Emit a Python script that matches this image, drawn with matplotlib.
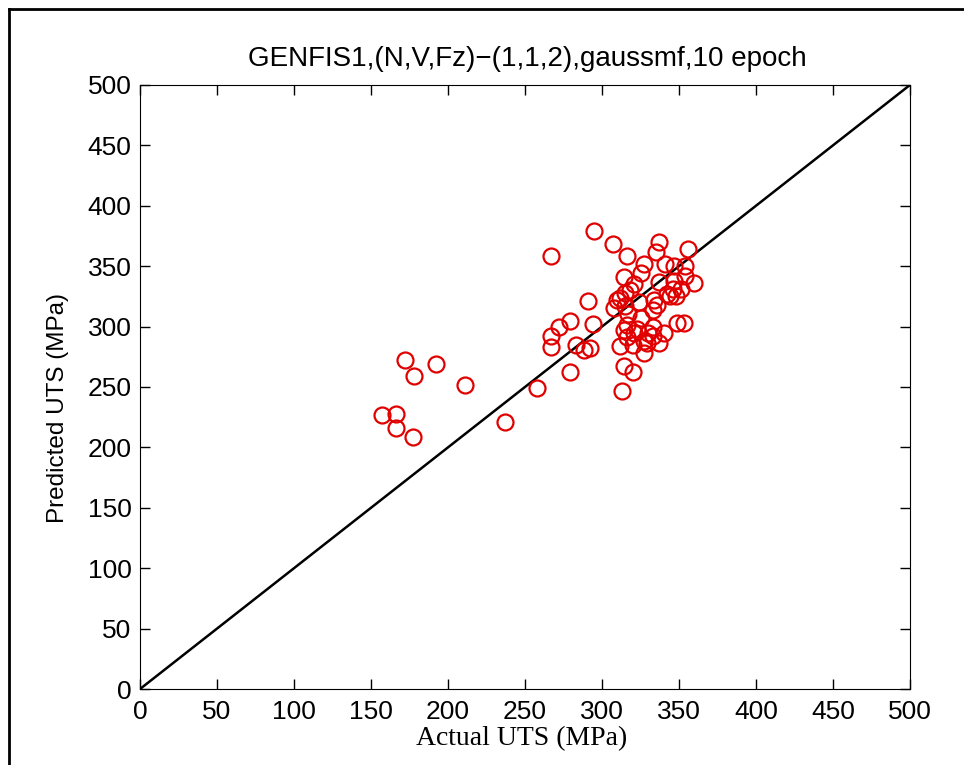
import matplotlib
matplotlib.use("Agg")
from matplotlib import pyplot as plt
from matplotlib.lines import Line2D

# actual vs predicted UTS (MPa)
actual = [295, 267, 307, 337, 335, 316, 356, 327, 341, 347, 354, 325, 314, 354, 360,
          321, 337, 347, 351, 346, 318, 315, 342, 348, 344, 312, 310, 334, 291, 336,
          308, 315, 324, 333, 317, 325, 279, 272, 294, 349, 353, 316, 333, 323, 314,
          330, 340, 321, 267, 333, 316, 337, 327, 267, 283, 288, 292, 312, 320, 329,
          327, 314, 320, 279, 313, 258,
          172, 192, 178, 211, 157, 166, 166, 177, 237]
predicted = [379, 358, 368, 370, 362, 358, 364, 352, 352, 350, 350, 344, 341, 342, 336,
             335, 337, 338, 331, 331, 330, 328, 327, 325, 325, 324, 322, 322, 321, 318,
             315, 317, 320, 314, 310, 307, 305, 300, 302, 303, 303, 301, 300, 298, 297,
             295, 295, 295, 292, 292, 291, 286, 288, 283, 285, 281, 282, 284, 285, 286,
             278, 267, 262, 262, 247, 249,
             272, 269, 259, 252, 227, 228, 216, 209, 221]
line_x = [0, 500]
line_y = [0, 500]
ticks = [0, 50, 100, 150, 200, 250, 300, 350, 400, 450, 500]

fig = plt.figure(figsize=(9.64, 7.65), dpi=100)
ax = fig.add_axes([0.1452, 0.0993, 0.7988, 0.7897])

ax.plot(line_x, line_y, color="black", linewidth=1.8)
ax.plot(actual, predicted, linestyle="none", marker="o", markersize=11.5,
        markerfacecolor="none", markeredgecolor="#e00000", markeredgewidth=1.6)

ax.set_xlim(0, 500)
ax.set_ylim(0, 500)
ax.set_xticks(ticks)
ax.set_yticks(ticks)
ax.tick_params(direction="in", top=True, right=True, length=7, width=1, labelsize=19)
ax.tick_params(axis="x", pad=8)
ax.tick_params(axis="y", pad=6)
for lab in ax.get_xticklabels() + ax.get_yticklabels():
    lab.set_fontfamily("Liberation Sans")

ax.text(0.503, 1.0315, "GENFIS1,(N,V,Fz)\u2212(1,1,2),gaussmf,10 epoch",
        transform=ax.transAxes, ha="center", va="baseline",
        fontsize=20, family="Liberation Sans")

ax.set_ylabel("Predicted UTS (MPa)", fontsize=17.5, family="Liberation Sans",
              va="center", ha="center")
ax.yaxis.set_label_coords(-0.1065, 0.465)
ax.set_xlabel("Actual UTS (MPa)", fontsize=20, family="Liberation Serif",
              va="baseline", ha="center")
ax.xaxis.set_label_coords(0.4955, -0.0927)

# frame round the figure (only left and top edges visible)
fig.add_artist(Line2D([9 / 964, 9 / 964], [0, 1 - 9 / 765], color="black", linewidth=2))
fig.add_artist(Line2D([9 / 964, 1], [1 - 9 / 765, 1 - 9 / 765], color="black", linewidth=2))

fig.savefig("out.png", dpi=100)
